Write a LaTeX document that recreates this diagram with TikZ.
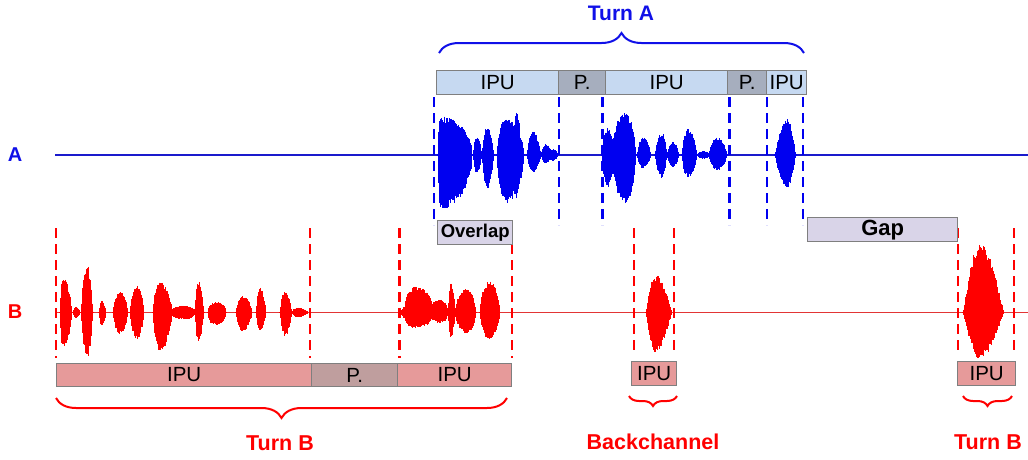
\documentclass[tikz,border=0pt]{standalone}
\usepackage{fontspec}
\setmainfont{Liberation Sans}
\usetikzlibrary{decorations.pathreplacing}
\definecolor{ipuAc}{HTML}{C6D9F1}
\definecolor{pAc}{HTML}{A6AEBE}
\definecolor{ipuBc}{HTML}{E69A9A}
\definecolor{pBc}{HTML}{BF9E9E}
\definecolor{ovc}{HTML}{D9D4E8}
\definecolor{boxgray}{HTML}{7F7F7F}
\definecolor{wblue}{HTML}{0000F0}
\definecolor{wred}{HTML}{FF0000}
\definecolor{lblue}{HTML}{1A1ACC}
\definecolor{lred}{HTML}{E23535}
\definecolor{tblue}{HTML}{1010E8}
\newcommand\wburst[8]{% #1 colour, #2 line y, #3 left x, #4 peak x, #5 right x, #6 up, #7 down, #8 power
  \pgfmathtruncatemacro\wN{(#5-#3)/0.6}
  \foreach \wI in {0,...,\wN}{
    \pgfmathsetmacro\wX{#3+0.6*\wI}
    \pgfmathsetmacro\wT{(\wX<#4) ? (#4-\wX)/(#4-#3) : (\wX-#4)/(#5-#4)}
    \pgfmathsetmacro\wF{max(1-\wT*\wT,0.0001)^#8}
    \pgfmathsetmacro\wU{#6*\wF*(0.8+0.2*rnd)+0.8}
    \pgfmathsetmacro\wD{#7*\wF*(0.8+0.2*rnd)+0.8}
    \draw[#1, line width=1.1pt] (\wX,#2-\wU) -- (\wX,#2+\wD);
  }}
\begin{document}
\begin{tikzpicture}[x=1pt,y=-1pt,
  box/.style={draw=boxgray, line width=1.4pt, inner sep=0pt, anchor=north west,
    font=\fontsize{20.5}{24}\selectfont},
  ipua/.style={box, fill=ipuAc, minimum height=24pt},
  pa/.style={box, fill=pAc, minimum height=24pt},
  ipub/.style={box, fill=ipuBc, minimum height=23.5pt},
  pb/.style={box, fill=pBc, minimum height=23.5pt},
  ovl/.style={box, fill=ovc, minimum height=24pt},
  lineA/.style={lblue, line width=1.6pt},
  lineB/.style={lred, line width=1.8pt},
  dashA/.style={wblue, line width=2.6pt, dash pattern=on 10pt off 6pt},
  dashB/.style={wred, line width=2.6pt, dash pattern=on 10pt off 6pt},
  braceA/.style={tblue, line width=2pt, decorate, decoration={brace, amplitude=#1}},
  braceB/.style={wred, line width=2pt, decorate, decoration={brace, mirror, amplitude=#1}},
  lblA/.style={tblue, font=\bfseries\fontsize{21}{24}\selectfont},
  lblB/.style={wred, font=\bfseries\fontsize{21.5}{24}\selectfont},
]
\useasboundingbox (0,0) rectangle (1028,459);
\fill[white] (0,0) rectangle (1028,459);
\pgfmathsetseed{4711}

% speaker labels
\node[lblA, font=\bfseries\fontsize{20}{24}\selectfont] (labA) at (15,155) {A};
\node[lblB, font=\bfseries\fontsize{20}{24}\selectfont] (labB) at (15,312) {B};

% base lines
\coordinate (a0) at (55,155); \coordinate (a1) at (1028,155);
\coordinate (b0) at (57,312.5); \coordinate (b1) at (1028,312.5);
\draw[lineA] (a0) -- (a1);
\draw[lineB] (b0) -- (b1);

% waveform A
\wburst{wblue}{155}{438}{441}{472}{38}{53}{0.5}
\wburst{wblue}{155}{473}{477}{482}{17}{17}{1}
\wburst{wblue}{155}{482}{487}{494}{28}{33}{1}
\wburst{wblue}{155}{497}{506}{524}{35}{47}{0.6}
\wburst{wblue}{155}{513}{517}{521}{42}{45}{1}
\wburst{wblue}{155}{527}{533}{541}{23}{17}{1}
\wburst{wblue}{155}{541}{546}{552}{10}{8}{1}
\wburst{wblue}{155}{550}{553}{558}{5}{5}{1}
\wburst{wblue}{155}{602}{608}{614}{27}{32}{0.8}
\wburst{wblue}{155}{612}{625}{636}{42}{48}{0.7}
\wburst{wblue}{155}{637}{643}{651}{17}{13}{1}
\wburst{wblue}{155}{655}{662}{667}{22}{22}{1}
\wburst{wblue}{155}{667}{673}{679}{12}{12}{1}
\wburst{wblue}{155}{682}{688}{697}{25}{22}{0.8}
\wburst{wblue}{155}{697}{704}{710}{3}{3}{1}
\wburst{wblue}{155}{709}{717}{727}{17}{15}{0.8}
\wburst{wblue}{155}{775}{787}{796}{35}{33}{1.2}

% waveform B
\wburst{wred}{312.5}{60}{63}{72}{35}{35}{0.8}
\wburst{wred}{312.5}{73}{76}{80}{5}{5}{1}
\wburst{wred}{312.5}{81}{87}{93}{48}{46}{1}
\wburst{wred}{312.5}{99}{102}{106}{11}{13}{1}
\wburst{wred}{312.5}{113}{120}{128}{20}{21}{0.8}
\wburst{wred}{312.5}{130}{137}{144}{26}{26}{0.8}
\wburst{wred}{312.5}{153}{160}{172}{30}{38}{0.7}
\wburst{wred}{312.5}{170}{185}{195}{6}{6}{0.5}
\wburst{wred}{312.5}{195}{198}{204}{33}{28}{1}
\wburst{wred}{312.5}{208}{216}{226}{10}{12}{0.5}
\wburst{wred}{312.5}{236}{243}{252}{16}{18}{0.8}
\wburst{wred}{312.5}{256}{260}{266}{25}{18}{1}
\wburst{wred}{312.5}{280}{285}{292}{22}{23}{1}
\wburst{wred}{312.5}{292}{297}{308}{4}{4}{1}
\wburst{wred}{312.5}{401}{405}{408}{5}{5}{1}
\wburst{wred}{312.5}{405}{415}{432}{25}{15}{0.3}
\wburst{wred}{312.5}{430}{440}{448}{12}{10}{0.5}
\wburst{wred}{312.5}{448}{451}{455}{30}{25}{1}
\wburst{wred}{312.5}{455}{467}{476}{23}{21}{0.7}
\wburst{wred}{312.5}{480}{489}{500}{31}{26}{0.7}
\wburst{wred}{312.5}{646}{655}{672}{37}{39}{1.2}
\wburst{wred}{312.5}{963}{980}{1004}{69}{46}{1.3}

% IPU boxes of A
\node[ipua, minimum width=122pt] (ia1) at (436,70) {IPU};
\node[pa, minimum width=47pt] (pa1) at (558,70) {P.};
\node[ipua, minimum width=122pt] (ia2) at (605,70) {IPU};
\node[pa, minimum width=39pt] (pa2) at (727,70) {P.};
\node[ipua, minimum width=40pt] (ia3) at (766,70) {IPU};

% brace and label of turn A
\coordinate (brA1) at (439,53); \coordinate (brA2) at (804,53);
\draw[braceA=20pt] (brA1) -- (brA2);
\node[lblA] (turnA) at (621,13) {Turn A};

% dashed borders of A
\foreach \x [count=\k] in {434,559,602.5,729.5,767,803}{
  \coordinate (dat\k) at (\x,97); \coordinate (dab\k) at (\x,225);
  \draw[dashA] (dat\k) -- (dab\k);
}

% dashed borders of B
\foreach \x/\yb [count=\k] in {56/358,310/358,399.5/358,512/358,634/355,674/355,958/355,1014/355}{
  \coordinate (dbt\k) at (\x,228); \coordinate (dbb\k) at (\x,\yb);
  \draw[dashB] (dbt\k) -- (dbb\k);
}

% overlap and gap
\node[ovl, minimum width=75pt, font=\bfseries\fontsize{18.5}{22}\selectfont] (ov) at (437,220) {Overlap};
\node[ovl, minimum width=150pt, font=\bfseries\fontsize{22}{24}\selectfont] (gap) at (807,217) {Gap};

% IPU boxes of B
\node[ipub, minimum width=255pt] (ib1) at (56,362.5) {IPU};
\node[pb, minimum width=86pt] (pb1) at (311,362.5) {P.};
\node[ipub, minimum width=114pt] (ib2) at (397,362.5) {IPU};
\node[ipub, minimum width=45pt] (ib3) at (631,361) {IPU};
\node[ipub, minimum width=58pt] (ib4) at (957,361) {IPU};

% braces and labels of B
\coordinate (brB1) at (56,398); \coordinate (brB2) at (507,398);
\draw[braceB=20pt] (brB1) -- (brB2);
\coordinate (brC1) at (629,396); \coordinate (brC2) at (677,396);
\draw[braceB=10pt] (brC1) -- (brC2);
\coordinate (brD1) at (963,396); \coordinate (brD2) at (1012,396);
\draw[braceB=10pt] (brD1) -- (brD2);
\node[lblB] (turnB1) at (280,443) {Turn B};
\node[lblB] (bc) at (653,442) {Backchannel};
\node[lblB] (turnB2) at (988,442) {Turn B};
\end{tikzpicture}
\end{document}
